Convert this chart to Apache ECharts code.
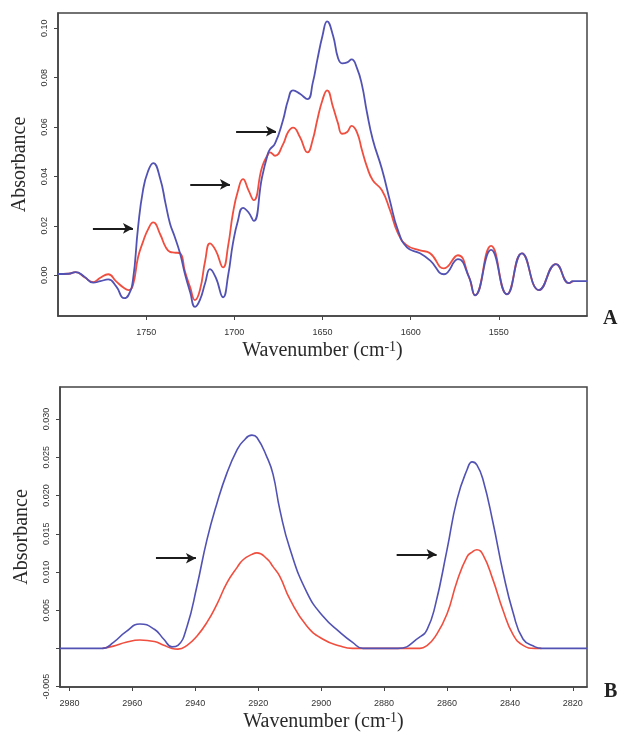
<!DOCTYPE html>
<html>
<head>
<meta charset="utf-8">
<title>FTIR spectra</title>
<script src="https://cdn.jsdelivr.net/npm/echarts@6/dist/echarts.min.js"></script>
<style>
    html, body { margin: 0; padding: 0; background: #fff; }
    #main { width: 619px; height: 734px; }
</style>
</head>
<body>
<div id="main"></div>
<script>
//======================== data, panel A (amide region) ========================
var waveA = [1800, 1794, 1790, 1785, 1780, 1776, 1771.5, 1767, 1762.5, 1760,
    1757.5, 1754.6, 1751.8, 1749, 1746, 1742, 1739, 1736.5, 1734, 1730.8,
    1728, 1725, 1722.3, 1719.5, 1716.5, 1713.8, 1710.5, 1706.4, 1703.5, 1700.8,
    1698, 1695.1, 1692, 1689, 1684.3, 1680.9, 1679.8, 1676.9, 1672.4, 1669.5,
    1666.7, 1662.8, 1658.5, 1655.5, 1653, 1650, 1647.4, 1644, 1641.2, 1638.9,
    1636, 1633.5, 1630.5, 1627.6, 1624.8, 1621.5, 1616.3, 1611.7, 1607.2, 1602.1,
    1594.7, 1589, 1581.1, 1573.2, 1566.9, 1563.5, 1554.4, 1545.4,
    1536.9, 1527.2, 1517.6, 1510.2, 1508, 1500];
var blueA = [0.0005, 0.0006, 0.0013, -0.0006, -0.0030, -0.0024, -0.0017, -0.0045, -0.0093, -0.0080,
    -0.0020, 0.0194, 0.0344, 0.0420, 0.0454, 0.0390, 0.0290, 0.0210, 0.0160, 0.0089,
    0.0005, -0.0070, -0.0128, -0.0100, -0.0030, 0.0025, -0.0010, -0.0089, 0.0000, 0.0129,
    0.0220, 0.0273, 0.0255, 0.0220, 0.0397, 0.0494, 0.0510, 0.0534, 0.0628, 0.0710,
    0.0749, 0.0735, 0.0713, 0.0780, 0.0870, 0.0970, 0.1028, 0.0970, 0.0880, 0.0858,
    0.0862, 0.0874, 0.0840, 0.0770, 0.0660, 0.0550, 0.0430, 0.0300, 0.0182, 0.0113,
    0.0089, 0.0060, 0.0004, 0.0065, -0.0008, -0.0081, 0.0103, -0.0077,
    0.0089, -0.0060, 0.0045, -0.0032, -0.0024, -0.0024];
var redA = [0.0005, 0.0006, 0.0013, -0.0008, -0.0028, -0.0010, 0.0004, -0.0025, -0.0052, -0.0060,
    -0.0040, 0.0073, 0.0135, 0.0185, 0.0214, 0.0165, 0.0115, 0.0095, 0.0092, 0.0089,
    0.0015, -0.0050, -0.0101, -0.0060, 0.0060, 0.0129, 0.0100, 0.0032, 0.0120, 0.0251,
    0.0340, 0.0389, 0.0345, 0.0304, 0.0437, 0.0490, 0.0498, 0.0484, 0.0530, 0.0580,
    0.0598, 0.0560, 0.0498, 0.0550, 0.0628, 0.0710, 0.0749, 0.0680, 0.0615, 0.0573,
    0.0580, 0.0605, 0.0580, 0.0506, 0.0440, 0.0385, 0.0344, 0.0263, 0.0170, 0.0121,
    0.0101, 0.0089, 0.0028, 0.0081, -0.0008, -0.0081, 0.0119, -0.0077,
    0.0089, -0.0060, 0.0045, -0.0032, -0.0024, null];
var xTicksA = [1750, 1700, 1650, 1600, 1550];
var yTicksA = [0, 0.02, 0.04, 0.06, 0.08, 0.10];
// arrows: [from, to, absorbance]
var arrowsA = [[1780.2, 1757.5, 0.019], [1725, 1702.5, 0.0368], [1699, 1676.4, 0.0583]];

//======================== data, panel B (CH stretch region) ========================
var waveB = [2983, 2969.5, 2966, 2962, 2957.6, 2953, 2950, 2947.4, 2945.5, 2942.6,
    2939.5, 2936.3, 2933.1, 2929.9, 2926.7, 2924.8, 2922, 2920.4, 2917.2, 2915.3,
    2913.1, 2909.9, 2904.5, 2899.4, 2894, 2890, 2886.7, 2875.6, 2868.6, 2866.3,
    2863.8, 2860, 2856.8, 2853.6, 2852, 2850.5, 2848.5, 2845.4, 2842.2, 2839,
    2835.8, 2832, 2830, 2815.5];
var blueB = [0, 0, 0.0008, 0.0022, 0.0032, 0.0025, 0.0012, 0.0002, 0.0004, 0.0029,
    0.0081, 0.0142, 0.0190, 0.0230, 0.0260, 0.0271, 0.0279, 0.0276, 0.0250, 0.0228,
    0.0181, 0.0130, 0.0073, 0.0042, 0.0021, 0.0008, 0, 0, 0.0015, 0.0025,
    0.0055, 0.0129, 0.0195, 0.0234, 0.0244, 0.0240, 0.0220, 0.0165, 0.0100, 0.0047,
    0.0012, 0.0002, 0, 0];
var redB = [null, 0, 0.0003, 0.0008, 0.0011, 0.0009, 0.0004, 0, -0.0001, 0.0004,
    0.0016, 0.0034, 0.0058, 0.0086, 0.0106, 0.0116, 0.0123, 0.0125, 0.0117, 0.0107,
    0.0094, 0.0064, 0.0029, 0.0012, 0.0003, 0, 0, 0, 0, 0.0004,
    0.0015, 0.0045, 0.0088, 0.0120, 0.0126, 0.0129, 0.0122, 0.0090, 0.0050, 0.0018,
    0.0004, 0, 0, null];
var xTicksB = [2980, 2960, 2940, 2920, 2900, 2880, 2860, 2840, 2820];
var yTicksB = [-0.005, 0, 0.005, 0.010, 0.015, 0.020, 0.025, 0.030];
var arrowsB = [[2952.5, 2939.8, 0.0118], [2876, 2863.3, 0.0123]];

var BLUE = '#5252b4';
var RED = '#f04e3e';
var FRAME = '#444';

function zip(xs, ys) {
    var out = [];
    for (var i = 0; i < xs.length; i++) {
        out.push([xs[i], ys[i]]);
    }
    return out;
}

function arrowLines(list) {
    return list.map(function (a) {
        return [{ coord: [a[0], a[2]] }, { coord: [a[1], a[2]] }];
    });
}

function arrowMark(list) {
    return {
        silent: true,
        animation: false,
        symbol: ['none', 'arrow'],
        symbolSize: [8, 10],
        label: { show: false },
        emphasis: { disabled: true },
        lineStyle: { color: '#1c1c1c', width: 2, type: 'solid' },
        data: arrowLines(list)
    };
}

var nameStyle = {
    fontFamily: '"Liberation Serif", "DejaVu Serif", serif',
    fontSize: 20,
    color: '#2a2a2a'
};
var xNameStyle = {
    fontFamily: '"Liberation Serif", "DejaVu Serif", serif',
    fontSize: 20,
    color: '#2a2a2a',
    lineHeight: 22,
    rich: {
        sup: {
            fontFamily: '"Liberation Serif", "DejaVu Serif", serif',
            fontSize: 14,
            lineHeight: 14,
            verticalAlign: 'top',
            color: '#2a2a2a'
        }
    }
};
var labelStyle = {
    fontFamily: '"Liberation Sans", Arial, sans-serif',
    fontSize: 9,
    color: '#333'
};

function xAxisCfg(idx, min, max, ticks, margin) {
    return {
        type: 'value',
        gridIndex: idx,
        inverse: true,
        min: min,
        max: max,
        name: 'Wavenumber (cm{sup|-1})',
        nameLocation: 'middle',
        nameGap: 24,
        nameTextStyle: xNameStyle,
        splitLine: { show: false },
        axisLine: { show: true, onZero: false, lineStyle: { color: FRAME, width: 1.5 } },
        axisTick: { show: true, length: 4, lineStyle: { color: FRAME }, customValues: ticks },
        axisLabel: Object.assign({
            margin: margin,
            customValues: ticks,
            formatter: function (v) { return String(v); }
        }, labelStyle)
    };
}

function yAxisCfg(idx, min, max, ticks, labels, digits) {
    return {
        type: 'value',
        gridIndex: idx,
        min: min,
        max: max,
        name: 'Absorbance',
        nameLocation: 'middle',
        nameGap: 28,
        nameTextStyle: nameStyle,
        splitLine: { show: false },
        axisLine: { show: true, onZero: false, lineStyle: { color: FRAME, width: 1.5 } },
        axisTick: { show: true, length: 4, lineStyle: { color: FRAME }, customValues: ticks },
        axisLabel: Object.assign({
            rotate: 90,
            margin: 9,
            customValues: labels,
            formatter: function (v) { return v.toFixed(digits); }
        }, labelStyle)
    };
}

var chart = echarts.init(document.getElementById('main'));

var option = {
    animation: false,
    backgroundColor: '#fff',
    grid: [
        { left: 58, top: 13, width: 529, height: 303, show: true, borderColor: FRAME, borderWidth: 1.5 },
        { left: 60, top: 387, width: 527, height: 301, show: true, borderColor: FRAME, borderWidth: 1.5 }
    ],
    xAxis: [
        xAxisCfg(0, 1500, 1800, xTicksA, 12),
        xAxisCfg(1, 2815.5, 2983, xTicksB, 12)
    ],
    yAxis: [
        yAxisCfg(0, -0.0165, 0.1062, yTicksA, yTicksA, 2),
        // 0.000 is not labelled on panel B
        yAxisCfg(1, -0.00505, 0.0342, yTicksB, yTicksB.filter(function (v) { return v !== 0; }), 3)
    ],
    graphic: [
        { type: 'text', left: 603, top: 309, style: { text: 'A', font: 'bold 20px "Liberation Serif", serif', fill: '#222' } },
        { type: 'text', left: 604, top: 682, style: { text: 'B', font: 'bold 20px "Liberation Serif", serif', fill: '#222' } }
    ],
    series: [
        {
            name: 'redA', type: 'line', xAxisIndex: 0, yAxisIndex: 0,
            data: zip(waveA, redA), showSymbol: false, smooth: 0.5,
            lineStyle: { color: RED, width: 1.8 }, itemStyle: { color: RED }
        },
        {
            name: 'blueA', type: 'line', xAxisIndex: 0, yAxisIndex: 0,
            data: zip(waveA, blueA), showSymbol: false, smooth: 0.5,
            lineStyle: { color: BLUE, width: 1.8 }, itemStyle: { color: BLUE },
            markLine: arrowMark(arrowsA)
        },
        {
            name: 'redB', type: 'line', xAxisIndex: 1, yAxisIndex: 1,
            data: zip(waveB, redB), showSymbol: false, smooth: 0.5,
            lineStyle: { color: RED, width: 1.6 }, itemStyle: { color: RED }
        },
        {
            name: 'blueB', type: 'line', xAxisIndex: 1, yAxisIndex: 1,
            data: zip(waveB, blueB), showSymbol: false, smooth: 0.5,
            lineStyle: { color: BLUE, width: 1.6 }, itemStyle: { color: BLUE },
            markLine: arrowMark(arrowsB)
        }
    ]
};

chart.setOption(option);
</script>
</body>
</html>
